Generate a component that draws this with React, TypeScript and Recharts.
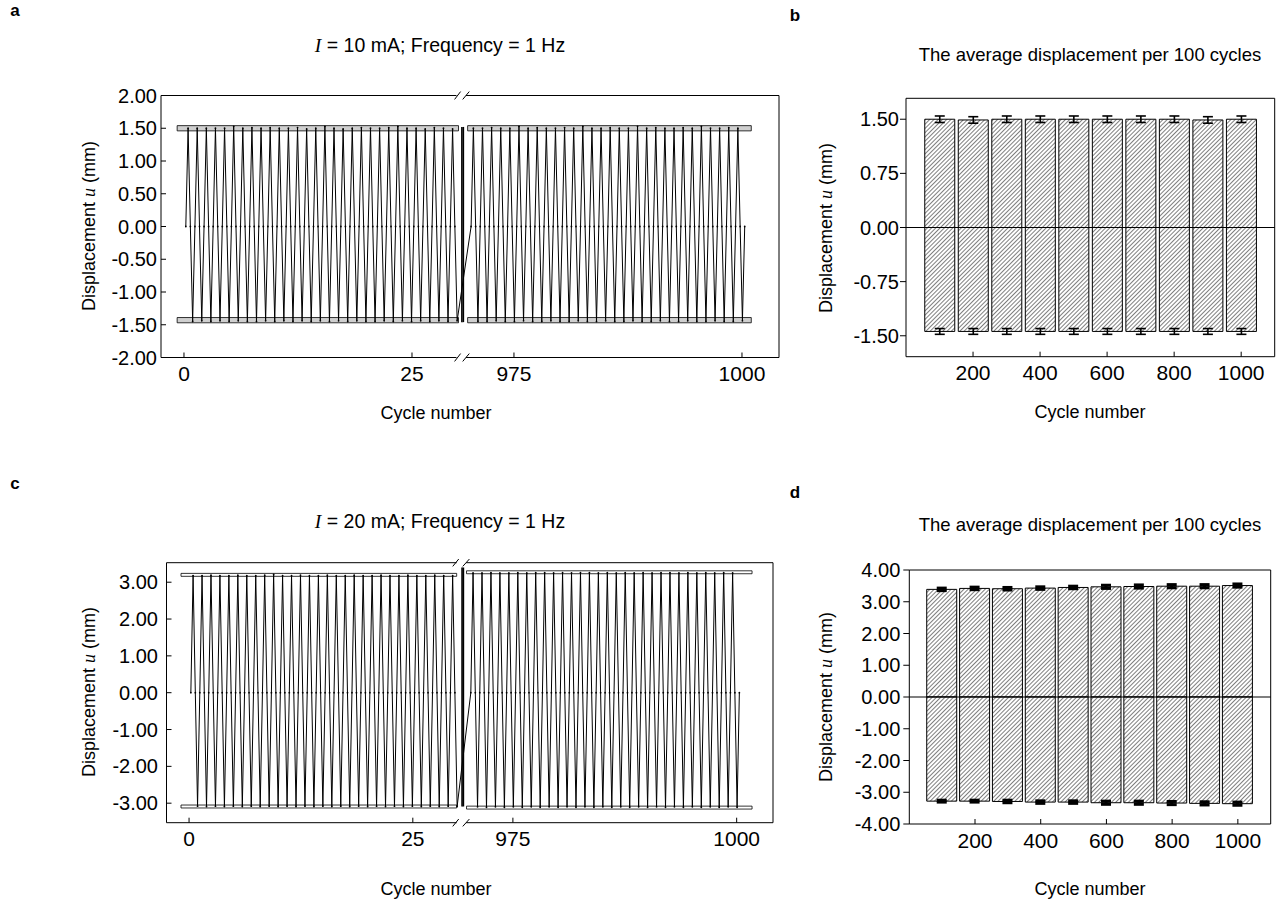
import React from 'react';
import {
  LineChart,
  Line,
  XAxis,
  YAxis,
  ReferenceLine,
  ReferenceArea,
  BarChart,
  Bar,
  ErrorBar,
} from 'recharts';

const FONT = '"Liberation Sans", Arial, Helvetica, sans-serif';
const SERIF = '"Liberation Serif", "Times New Roman", serif';

// ---------- Panel a (I = 10 mA): peak / trough displacement of each cycle ----------
const aLeftPeaks = [1.50, 1.50, 1.50, 1.50, 1.50, 1.53, 1.50, 1.51, 1.50, 1.51, 1.50, 1.50, 1.51, 1.49, 1.50, 1.53, 1.50, 1.49, 1.50, 1.51, 1.50, 1.50, 1.51, 1.53, 1.50, 1.50, 1.49, 1.51, 1.50, 1.49];
const aLeftTroughs = [-1.45, -1.44, -1.45, -1.44, -1.45, -1.44, -1.45, -1.45, -1.44, -1.45, -1.44, -1.45, -1.44, -1.45, -1.44, -1.45, -1.44, -1.45, -1.44, -1.45, -1.45, -1.44, -1.45, -1.44, -1.45, -1.44, -1.45, -1.44, -1.45, -1.44];
const aRightPeaks = [1.50, 1.50, 1.51, 1.50, 1.50, 1.53, 1.50, 1.51, 1.50, 1.50, 1.51, 1.50, 1.53, 1.50, 1.50, 1.51, 1.50, 1.50, 1.53, 1.50, 1.51, 1.50, 1.50, 1.51, 1.50, 1.53, 1.50, 1.50, 1.51, 1.50];
const aRightTroughs = [-1.45, -1.45, -1.44, -1.45, -1.45, -1.44, -1.45, -1.45, -1.44, -1.45, -1.45, -1.44, -1.45, -1.45, -1.44, -1.45, -1.45, -1.44, -1.45, -1.45, -1.44, -1.45, -1.45, -1.44, -1.45, -1.45, -1.44, -1.45, -1.45, -1.44];

// ---------- Panel c (I = 20 mA) ----------
const cLeftPeaks = [3.18, 3.18, 3.19, 3.18, 3.18, 3.19, 3.18, 3.18, 3.19, 3.21, 3.18, 3.18, 3.19, 3.18, 3.18, 3.19, 3.18, 3.18, 3.19, 3.18, 3.18, 3.19, 3.18, 3.18, 3.19, 3.18, 3.18, 3.19, 3.18, 3.18];
const cLeftTroughs = [-3.08, -3.09, -3.08, -3.09, -3.08, -3.09, -3.08, -3.09, -3.08, -3.09, -3.08, -3.09, -3.08, -3.09, -3.08, -3.09, -3.08, -3.09, -3.08, -3.09, -3.08, -3.09, -3.08, -3.09, -3.08, -3.09, -3.08, -3.09, -3.08, -3.09];
const cRightPeaks = [3.25, 3.25, 3.26, 3.25, 3.25, 3.26, 3.25, 3.26, 3.26, 3.25, 3.26, 3.25, 3.26, 3.26, 3.25, 3.26, 3.25, 3.26, 3.25, 3.26, 3.25, 3.26, 3.26, 3.25, 3.26, 3.25, 3.26, 3.25, 3.26, 3.25];
const cRightTroughs = [-3.10, -3.11, -3.10, -3.11, -3.10, -3.11, -3.10, -3.11, -3.10, -3.11, -3.10, -3.11, -3.10, -3.11, -3.10, -3.11, -3.10, -3.11, -3.10, -3.11, -3.10, -3.11, -3.10, -3.11, -3.10, -3.11, -3.10, -3.11, -3.10, -3.11];

// cycle windows shown on the broken axis
const LEFT_START = 0;
const RIGHT_START = 970;
const LAST_CYCLE = 1000;
const BREAK_SHIFT = 938.82; // right-hand cycles are drawn at (cycle - BREAK_SHIFT)
const cycleTicks = [0, 25, 975, 1000];

// ---------- Panels b & d: average displacement per 100 cycles ----------
const barCycles = [100, 200, 300, 400, 500, 600, 700, 800, 900, 1000];
const bPos = [1.50, 1.49, 1.50, 1.50, 1.50, 1.50, 1.50, 1.50, 1.49, 1.50];
const bPosErr = [0.045, 0.045, 0.045, 0.045, 0.045, 0.045, 0.045, 0.045, 0.045, 0.045];
const bNeg = [-1.44, -1.44, -1.44, -1.44, -1.44, -1.44, -1.44, -1.44, -1.44, -1.44];
const bNegErr = [0.04, 0.04, 0.04, 0.04, 0.04, 0.04, 0.04, 0.04, 0.04, 0.04];
const dPos = [3.39, 3.42, 3.41, 3.43, 3.45, 3.47, 3.48, 3.49, 3.49, 3.51];
const dPosErr = [0.04, 0.04, 0.04, 0.04, 0.04, 0.05, 0.05, 0.05, 0.05, 0.05];
const dNeg = [-3.28, -3.28, -3.29, -3.31, -3.31, -3.33, -3.33, -3.34, -3.35, -3.36];
const dNegErr = [0.03, 0.03, 0.04, 0.04, 0.04, 0.05, 0.05, 0.05, 0.05, 0.05];
const barTicks = [200, 400, 600, 800, 1000];

function buildCycles(peaks: number[], troughs: number[], start: number, phase: number, shift: number) {
  const pts: { x: number; u: number }[] = [];
  peaks.forEach((p, i) => {
    const c = start + i + phase;
    pts.push({ x: c - shift, u: 0 });
    pts.push({ x: c + 0.25 - shift, u: p });
    pts.push({ x: c + 0.5 - shift, u: 0 });
    pts.push({ x: c + 0.75 - shift, u: troughs[i] });
  });
  return pts;
}

function buildTrace(lp: number[], lt: number[], rp: number[], rt: number[]) {
  return [
    ...buildCycles(lp, lt, LEFT_START, 0.2, 0),
    ...buildCycles(rp, rt, RIGHT_START, 0.3, BREAK_SHIFT),
    { x: LAST_CYCLE + 0.3 - BREAK_SHIFT, u: 0 },
  ];
}

const traceA = buildTrace(aLeftPeaks, aLeftTroughs, aRightPeaks, aRightTroughs);
const traceC = buildTrace(cLeftPeaks, cLeftTroughs, cRightPeaks, cRightTroughs);
const mappedTicks = cycleTicks.map((c) => (c >= RIGHT_START ? c - BREAK_SHIFT : c));
const fmtCycle = (v: number) => String(v > 30 ? Math.round(v + BREAK_SHIFT) : Math.round(v));

const barDataB = barCycles.map((x, i) => ({ x, pos: bPos[i], pe: bPosErr[i], neg: bNeg[i], ne: bNegErr[i] }));
const barDataD = barCycles.map((x, i) => ({ x, pos: dPos[i], pe: dPosErr[i], neg: dNeg[i], ne: dNegErr[i] }));

const tickStyle = { fontSize: 20, fill: '#000', fontFamily: FONT };
const xTickStyle = { fontSize: 21, fill: '#000', fontFamily: FONT };

const SmallDot = (props: any) => {
  const { cx, cy, index } = props;
  if (cx == null || cy == null) return <g key={`d${index}`} />;
  return <circle key={`d${index}`} cx={cx} cy={cy} r={0.9} fill="#000" />;
};

type CyclePanelProps = {
  data: { x: number; u: number }[];
  yDomain: [number, number];
  yTicks: number[];
  xDomain: [number, number];
  gap: [number, number];
  slashes: [number, number, number, number];
  slashH: number;
  breakLines: [number, number];
  breakY: [number, number];
  bands: { x1: number; x2: number; y1: number; y2: number }[];
  bandFill: string;
  width: number;
  height: number;
  margin: { top: number; right: number; bottom: number; left: number };
  yAxisWidth: number;
  yTickMargin: number;
};

function CyclePanel(p: CyclePanelProps) {
  const [y0, y1] = p.yDomain;
  const [x0, x1] = p.xDomain;
  const [s1a, s1b, s2a, s2b] = p.slashes;
  const seg = (key: string, ax: number, ay: number, bx: number, by: number, w = 1) => (
    <ReferenceLine
      key={key}
      segment={[{ x: ax, y: ay }, { x: bx, y: by }]}
      stroke="#000"
      strokeWidth={w}
      ifOverflow="visible"
    />
  );
  return (
    <LineChart width={p.width} height={p.height} data={p.data} margin={p.margin}>
      <XAxis
        type="number"
        dataKey="x"
        domain={p.xDomain}
        ticks={mappedTicks}
        tickFormatter={fmtCycle}
        allowDataOverflow
        axisLine={false}
        tickSize={-5}
        tickMargin={13.5}
        tickLine={{ stroke: '#000' }}
        tick={xTickStyle}
        height={30}
      />
      <YAxis
        type="number"
        domain={p.yDomain}
        ticks={p.yTicks}
        tickFormatter={(v: number) => v.toFixed(2)}
        allowDataOverflow
        axisLine={{ stroke: '#000' }}
        tickLine={{ stroke: '#000' }}
        tickSize={-5}
        tickMargin={p.yTickMargin}
        tick={tickStyle}
        width={p.yAxisWidth}
      />
      {p.bands.map((b, i) => (
        <ReferenceArea
          key={`band${i}`}
          x1={b.x1}
          x2={b.x2}
          y1={b.y1}
          y2={b.y2}
          fill={p.bandFill}
          fillOpacity={1}
          stroke="#000"
          strokeWidth={0.8}
          ifOverflow="visible"
        />
      ))}
      {/* frame with axis break */}
      {seg('bl', x0, y0, p.gap[0], y0)}
      {seg('br', p.gap[1], y0, x1, y0)}
      {seg('tl', x0, y1, p.gap[0], y1)}
      {seg('tr', p.gap[1], y1, x1, y1)}
      <ReferenceLine x={x1} stroke="#000" strokeWidth={1} ifOverflow="visible" />
      {seg('bs1', s1a, y0 - p.slashH, s1b, y0 + p.slashH)}
      {seg('bs2', s2a, y0 - p.slashH, s2b, y0 + p.slashH)}
      {seg('ts1', s1a, y1 - p.slashH, s1b, y1 + p.slashH)}
      {seg('ts2', s2a, y1 - p.slashH, s2b, y1 + p.slashH)}
      {seg('v1', p.breakLines[0], p.breakY[0], p.breakLines[0], p.breakY[1], 1.6)}
      {seg('v2', p.breakLines[1], p.breakY[0], p.breakLines[1], p.breakY[1], 1.6)}
      <Line
        type="linear"
        dataKey="u"
        stroke="#000"
        strokeWidth={1}
        dot={SmallDot}
        activeDot={false}
        isAnimationActive={false}
      />
    </LineChart>
  );
}

type BarPanelProps = {
  data: any[];
  id: string;
  yDomain: [number, number];
  yTicks: number[];
  width: number;
  height: number;
  margin: { top: number; right: number; bottom: number; left: number };
  yAxisWidth: number;
  xAxisHeight: number;
  xTickMargin: number;
  yTickMargin: number;
  errW: number;
};

function BarPanel(p: BarPanelProps) {
  return (
    <BarChart width={p.width} height={p.height} data={p.data} margin={p.margin}>
      <defs>
        <pattern id={p.id} patternUnits="userSpaceOnUse" width={3} height={3} patternTransform="rotate(45)">
          <rect x={0} y={0} width={3} height={3} fill="#fff" />
          <line x1={0} y1={0} x2={0} y2={3} stroke="#000" strokeWidth={1} />
        </pattern>
      </defs>
      <XAxis
        xAxisId="xa"
        type="number"
        dataKey="x"
        domain={[0, 1100]}
        ticks={barTicks}
        axisLine={{ stroke: '#000' }}
        tickLine={{ stroke: '#000' }}
        tickSize={-5}
        tickMargin={p.xTickMargin}
        tick={xTickStyle}
        height={p.xAxisHeight}
      />
      <XAxis xAxisId="xb" type="number" dataKey="x" domain={[0, 1100]} hide height={0} />
      <YAxis
        type="number"
        domain={p.yDomain}
        ticks={p.yTicks}
        tickFormatter={(v: number) => v.toFixed(2)}
        allowDataOverflow
        axisLine={{ stroke: '#000' }}
        tickLine={{ stroke: '#000' }}
        tickSize={6}
        tickMargin={p.yTickMargin}
        tick={tickStyle}
        width={p.yAxisWidth}
      />
      <Bar
        xAxisId="xa"
        dataKey="pos"
        barSize={30}
        fill={`url(#${p.id})`}
        stroke="#000"
        strokeWidth={1}
        isAnimationActive={false}
      >
        <ErrorBar dataKey="pe" width={5} stroke="#000" strokeWidth={p.errW} direction="y" />
      </Bar>
      <Bar
        xAxisId="xb"
        dataKey="neg"
        barSize={30}
        fill={`url(#${p.id})`}
        stroke="#000"
        strokeWidth={1}
        isAnimationActive={false}
      >
        <ErrorBar dataKey="ne" width={5} stroke="#000" strokeWidth={p.errW} direction="y" />
      </Bar>
      <ReferenceLine xAxisId="xa" y={0} stroke="#000" strokeWidth={1.2} />
      <ReferenceLine xAxisId="xa" y={p.yDomain[1]} stroke="#000" strokeWidth={1} ifOverflow="visible" />
      <ReferenceLine xAxisId="xa" x={1100} stroke="#000" strokeWidth={1} ifOverflow="visible" />
    </BarChart>
  );
}

const abs = (left: number, top: number): React.CSSProperties => ({ position: 'absolute', left, top });

function CenterText(props: { x: number; y: number; size: number; rotate?: boolean; bold?: boolean; children: React.ReactNode }) {
  return (
    <div
      style={{
        position: 'absolute',
        left: props.x,
        top: props.y,
        transform: `translate(-50%, -50%)${props.rotate ? ' rotate(-90deg)' : ''}`,
        whiteSpace: 'nowrap',
        fontSize: props.size,
        fontFamily: FONT,
        fontWeight: props.bold ? 'bold' : 'normal',
        color: '#000',
        lineHeight: 1,
      }}
    >
      {props.children}
    </div>
  );
}

const ItalicSerif = ({ t }: { t: string }) => (
  <span style={{ fontFamily: SERIF, fontStyle: 'italic' }}>{t}</span>
);

const YLabel = () => (
  <>
    Displacement <ItalicSerif t="u" /> (mm)
  </>
);

export default function App() {
  return (
    <div style={{ position: 'absolute', left: 0, top: 0, width: 1277, height: 905, background: '#fff', fontFamily: FONT }}>
      {/* panel letters */}
      <CenterText x={15} y={10} size={17} bold>a</CenterText>
      <CenterText x={795} y={15} size={17} bold>b</CenterText>
      <CenterText x={15} y={483} size={17} bold>c</CenterText>
      <CenterText x={795} y={492} size={17} bold>d</CenterText>

      {/* titles */}
      <CenterText x={440} y={46} size={19.5}>
        <ItalicSerif t="I" /> = 10 mA; Frequency = 1 Hz
      </CenterText>
      <CenterText x={1090} y={55} size={18.5}>The average displacement per 100 cycles</CenterText>
      <CenterText x={440} y={522} size={19.5}>
        <ItalicSerif t="I" /> = 20 mA; Frequency = 1 Hz
      </CenterText>
      <CenterText x={1090} y={525} size={18.5}>The average displacement per 100 cycles</CenterText>

      {/* axis titles */}
      <CenterText x={436} y={413} size={18}>Cycle number</CenterText>
      <CenterText x={1090} y={412} size={18}>Cycle number</CenterText>
      <CenterText x={436} y={889} size={18}>Cycle number</CenterText>
      <CenterText x={1090} y={889} size={18}>Cycle number</CenterText>
      <CenterText x={89} y={226} size={18} rotate><YLabel /></CenterText>
      <CenterText x={826} y={228} size={18} rotate><YLabel /></CenterText>
      <CenterText x={89} y={692} size={18} rotate><YLabel /></CenterText>
      <CenterText x={826} y={697} size={18} rotate><YLabel /></CenterText>

      {/* panel a */}
      <div style={abs(60, 80)}>
        <CyclePanel
          data={traceA}
          yDomain={[-2, 2]}
          yTicks={[-2, -1.5, -1, -0.5, 0, 0.5, 1, 1.5, 2]}
          xDomain={[-2.52, 65.24]}
          gap={[29.88, 30.92]}
          slashes={[29.67, 30.33, 30.56, 31.28]}
          slashH={0.06}
          breakLines={[30.47, 30.63]}
          breakY={[1.52, -1.46]}
          bands={[
            { x1: -0.75, x2: 30.1, y1: 1.46, y2: 1.54 },
            { x1: -0.75, x2: 30.1, y1: -1.47, y2: -1.39 },
            { x1: 31.1, x2: 62.2, y1: 1.46, y2: 1.54 },
            { x1: 31.1, x2: 62.2, y1: -1.47, y2: -1.39 },
          ]}
          bandFill="#cfcfcf"
          width={740}
          height={330}
          margin={{ top: 15.5, right: 21, bottom: 22.5, left: 0 }}
          yAxisWidth={101}
          yTickMargin={9}
        />
      </div>

      {/* panel c */}
      <div style={abs(60, 545)}>
        <CyclePanel
          data={traceC}
          yDomain={[-3.53, 3.53]}
          yTicks={[-3, -2, -1, 0, 1, 2, 3]}
          xDomain={[-2.52, 65.24]}
          gap={[29.9, 30.95]}
          slashes={[29.46, 30.13, 30.58, 31.32]}
          slashH={0.1}
          breakLines={[30.5, 30.65]}
          breakY={[3.4, -3.09]}
          bands={[
            { x1: -0.9, x2: 29.9, y1: 3.16, y2: 3.24 },
            { x1: -0.9, x2: 29.9, y1: -3.13, y2: -3.05 },
            { x1: 31.0, x2: 62.9, y1: 3.23, y2: 3.31 },
            { x1: 31.0, x2: 62.9, y1: -3.16, y2: -3.08 },
          ]}
          bandFill="#ffffff"
          width={740}
          height={310}
          margin={{ top: 17.7, right: 27, bottom: 2.3, left: 0 }}
          yAxisWidth={106.5}
          yTickMargin={13.5}
        />
      </div>

      {/* panel b */}
      <div style={abs(820, 80)}>
        <BarPanel
          data={barDataB}
          id="hatchB"
          yDomain={[-1.79, 1.79]}
          yTicks={[-1.5, -0.75, 0, 0.75, 1.5]}
          width={457}
          height={320}
          margin={{ top: 18.3, right: 2.3, bottom: 20, left: 0 }}
          yAxisWidth={86}
          xAxisHeight={23.3}
          xTickMargin={13}
          yTickMargin={1}
          errW={1.6}
        />
      </div>

      {/* panel d */}
      <div style={abs(820, 550)}>
        <BarPanel
          data={barDataD}
          id="hatchD"
          yDomain={[-4, 4]}
          yTicks={[-4, -3, -2, -1, 0, 1, 2, 3, 4]}
          width={457}
          height={320}
          margin={{ top: 20, right: 6.3, bottom: 20, left: 0 }}
          yAxisWidth={89.3}
          xAxisHeight={26}
          xTickMargin={14}
          yTickMargin={3}
          errW={3}
        />
      </div>
    </div>
  );
}
